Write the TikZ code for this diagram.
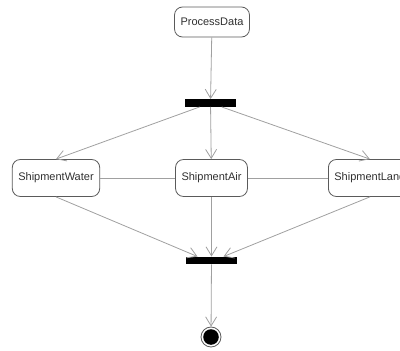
\documentclass[tikz,border=0pt]{standalone}
\usepackage{fontspec}
\setmainfont{Liberation Sans}
\usetikzlibrary{arrows.meta}
\definecolor{linegray}{HTML}{A0A0A0}
\definecolor{boxgray}{HTML}{5A5A5A}
\definecolor{textgray}{HTML}{303030}
\tikzset{
  action/.style={draw=boxgray, line width=0.8pt, rounded corners=8pt, fill=white,
    text=textgray, font=\fontsize{11}{12}\selectfont, inner xsep=6pt, minimum height=37pt},
  bar/.style={fill=black, draw=none, minimum width=51pt, minimum height=7.5pt, inner sep=0pt},
  flow/.style={draw=linegray, line width=0.8pt, -{Straight Barb[length=9pt,width=11pt]}},
  link/.style={draw=linegray, line width=0.8pt}
}
\begin{document}
\begin{tikzpicture}[x=1pt,y=-1pt]
    \path[use as bounding box, clip] (0,0) rectangle (400,351);

    \node[action, minimum height=30pt] (process) at (212,22) {ProcessData};
    \node[bar] (fork) at (210.5,103) {};
    \node[action] (water) at (56,178) {ShipmentWater};
    \node[action] (air) at (211.5,178) {ShipmentAir};
    \node[action, anchor=west] (land) at (328,178) {ShipmentLand};
    \node[bar] (join) at (211.5,260.5) {};
    \node[circle, draw=boxgray, line width=0.8pt, minimum size=20pt, inner sep=0pt] (final) at (211,337) {};
    \fill[black] (final) circle (7.8pt);

    \draw[flow] (process) -- (fork);
    \draw[flow] (fork) -- (water.north);
    \draw[flow] (fork) -- (air);
    \draw[flow] (fork) -- (land.north);

    \draw[link] (water) -- (air);
    \draw[link] (air) -- (land);

    \draw[flow] (water.south) -- ([xshift=-14pt]join.north);
    \draw[flow] (air) -- (join);
    \draw[flow] (land.south) -- ([xshift=12pt]join.north);

    \draw[flow] (join) -- (final);

  \end{tikzpicture}
\end{document}
